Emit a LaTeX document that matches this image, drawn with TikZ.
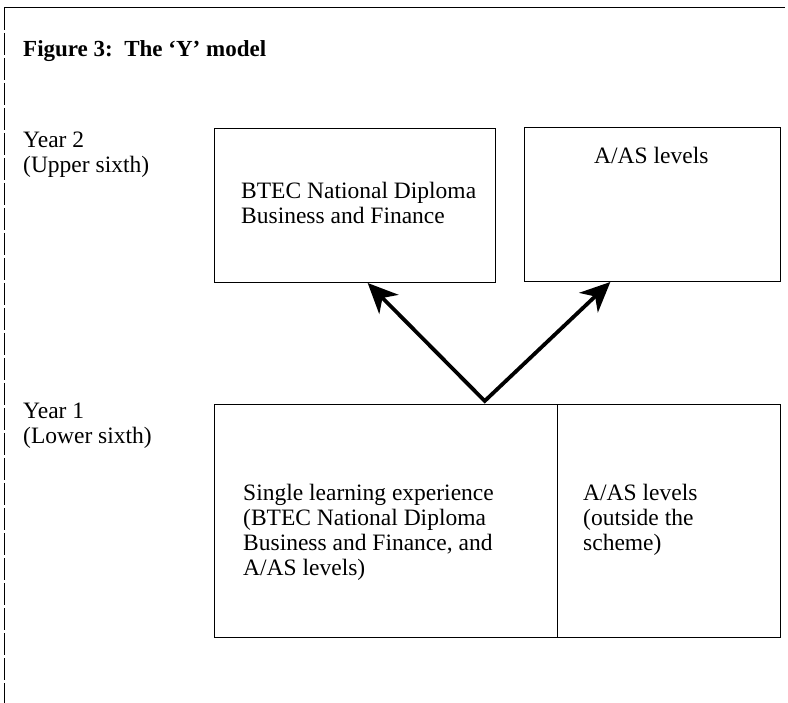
\documentclass[tikz,border=0pt]{standalone}
\usepackage{fontspec}
\setmainfont{Liberation Serif}
\usetikzlibrary{arrows.meta,calc}
\tikzset{ytip/.tip={Stealth[length=30pt,width=27pt,inset=9pt]}}
\begin{document}
\begin{tikzpicture}[x=1pt,y=-1pt,
  frame/.style={line width=1pt},
  box/.style={draw,line width=1pt,inner sep=0pt,anchor=north west},
  txt/.style={inner sep=0pt,anchor=north west,align=left,font=\fontsize{23.5}{25}\selectfont},
  ttl/.style={inner sep=0pt,anchor=north west,font=\fontsize{23}{25}\selectfont\bfseries},
  yarrow/.style={line width=3.8pt,line join=miter,{ytip}-{ytip}}]
\path[use as bounding box] (0,0) rectangle (788,703);
% frame
\draw[frame] (4,8) -- (785,8);
\draw[frame,dash pattern=on 22pt off 3pt] (4,8) -- (4,703);
% title and year labels
\node[ttl] (title) at (23,40) {Figure 3:\ \ The `Y' model};
\node[txt] (y2) at (23,132) {Year 2\\(Upper sixth)};
\node[txt] (y1) at (23,403) {Year 1\\(Lower sixth)};
% year 2 boxes
\node[box,minimum width=281pt,minimum height=154pt] (btec) at (214,128) {};
\node[box,minimum width=256pt,minimum height=154pt] (aas) at (524,127) {};
\node[txt] (btect) at (241,182) {BTEC National Diploma\\Business and Finance};
\node[txt] (aast) at (594,147) {A/AS levels};
% year 1 boxes
\node[box,minimum width=343pt,minimum height=233pt] (single) at (214,404) {};
\node[box,minimum width=223pt,minimum height=233pt] (outside) at (557,404) {};
\node[txt] (singlet) at (243,484) {Single learning experience\\(BTEC National Diploma\\Business and Finance, and\\A/AS levels)};
\node[txt] (outsidet) at (583,484) {A/AS levels\\(outside the\\scheme)};
% arrows
\coordinate (apex) at ($(single.north west)!0.787!(single.north east)+(0,-3)$);
\coordinate (tipL) at ($(btec.south west)!0.545!(btec.south east)$);
\coordinate (tipR) at ($(aas.south west)!0.336!(aas.south east)$);
\draw[yarrow] (tipL) -- (apex) -- (tipR);
\end{tikzpicture}
\end{document}
